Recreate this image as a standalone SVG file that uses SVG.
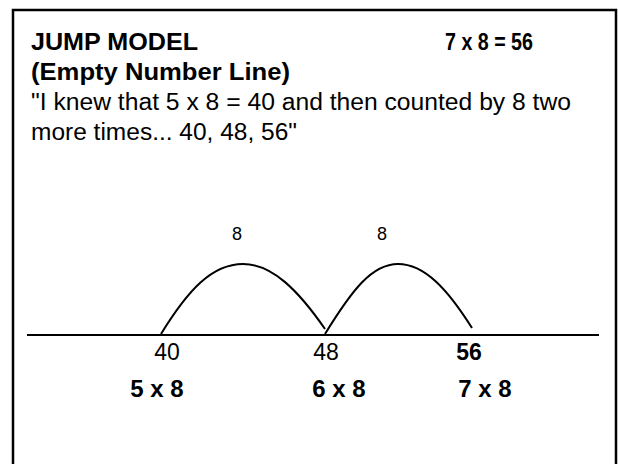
<svg xmlns="http://www.w3.org/2000/svg" width="618" height="464" viewBox="0 0 618 464">
<style>
text{font-family:"Liberation Sans",Arial,sans-serif;fill:#000}
.b{font-weight:bold}
.t{font-size:24px}
.q{font-size:23px}
.s{font-size:18px}
.n{font-size:23px;text-anchor:middle}
.m{font-size:24px;font-weight:bold;text-anchor:middle}
.arc{fill:none;stroke:#000;stroke-width:2}
</style>
<rect width="618" height="464" fill="#fff"/>
<path d="M13,470 V10 H616 V470" fill="none" stroke="#000" stroke-width="2.5"/>
<g id="header">
<text class="t b" x="31" y="50" textLength="167" lengthAdjust="spacingAndGlyphs">JUMP MODEL</text>
<text class="t b" x="445" y="50" textLength="88" lengthAdjust="spacingAndGlyphs">7 x 8 = 56</text>
<text class="t b" x="31" y="80" textLength="259" lengthAdjust="spacingAndGlyphs">(Empty Number Line)</text>
<text class="q" x="31" y="110" textLength="540" lengthAdjust="spacingAndGlyphs">"I knew that 5 x 8 = 40 and then counted by 8 two</text>
<text class="q" x="31" y="140" textLength="266" lengthAdjust="spacingAndGlyphs">more times... 40, 48, 56"</text>
</g>
<g id="number-line">
<line x1="27" y1="335" x2="599" y2="335" stroke="#000" stroke-width="2"/>
</g>
<g id="connectors">
<path class="arc" d="M161,334 C188,290 212,264 243,264 C272,264 298,290 325,329"/>
<path class="arc" d="M325,334 C352,290 372,264 398,264 C425,264 448,290 472,328"/>
</g>
<g id="jump1"><text class="s" x="237" y="240" text-anchor="middle">8</text></g>
<g id="jump2"><text class="s" x="382" y="240" text-anchor="middle">8</text></g>
<g id="p40">
<text class="n" x="167" y="360">40</text>
<text class="m" x="157" y="397">5 x 8</text>
</g>
<g id="p48">
<text class="n" x="326" y="360">48</text>
<text class="m" x="339" y="397">6 x 8</text>
</g>
<g id="p56">
<text class="n b" x="469" y="360">56</text>
<text class="m" x="485" y="397">7 x 8</text>
</g>
</svg>
